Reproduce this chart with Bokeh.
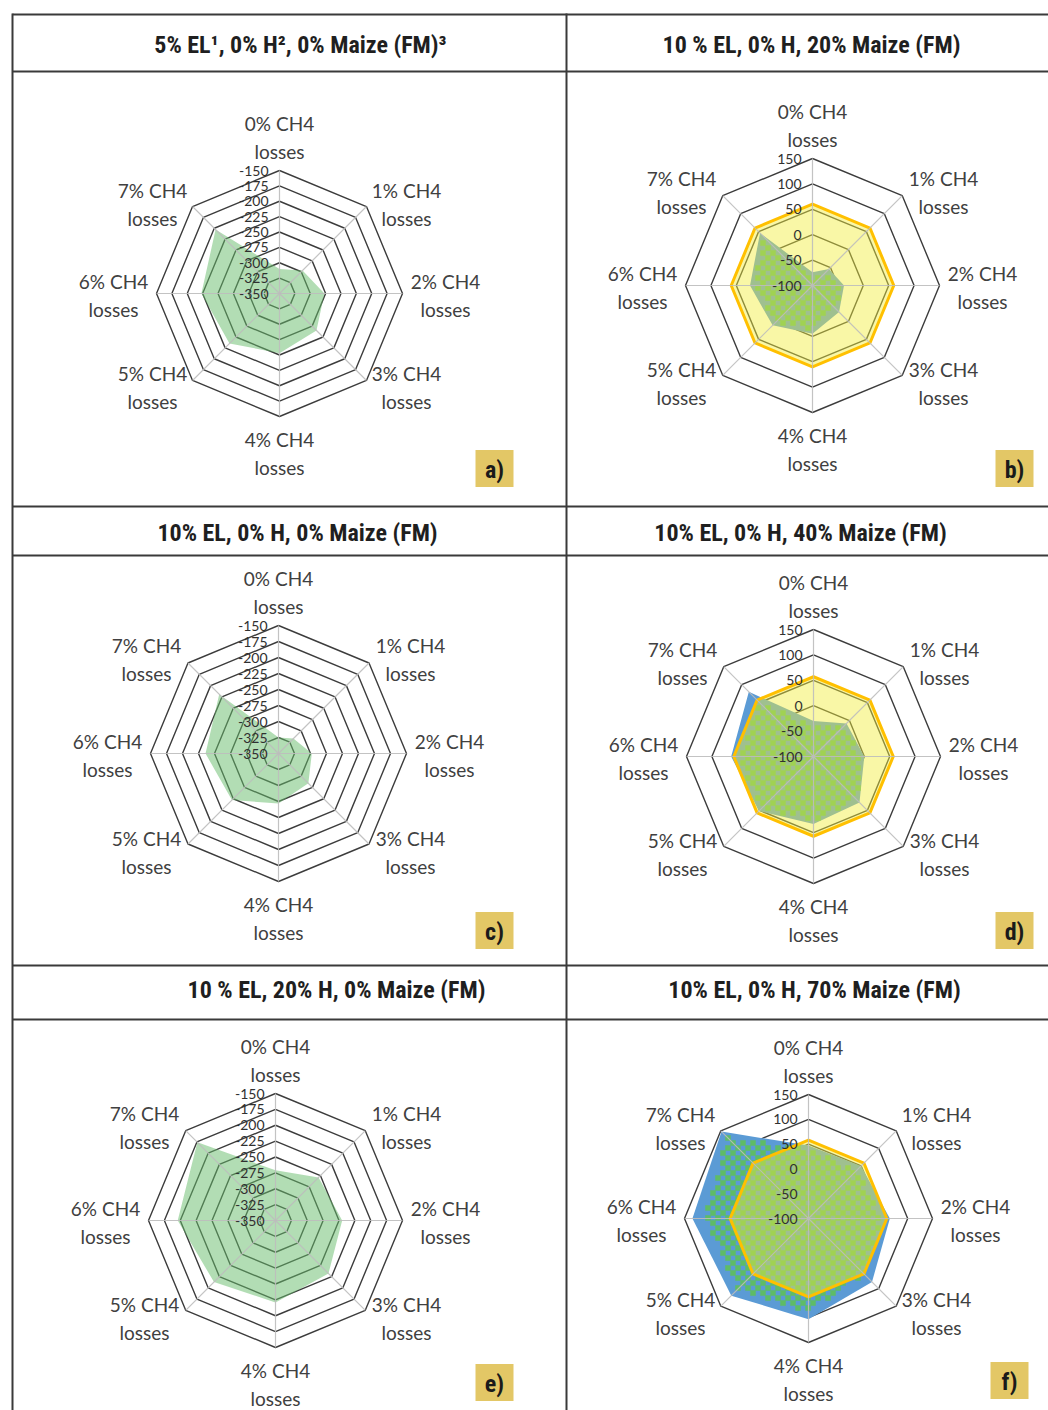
import math
from bokeh.plotting import figure
from bokeh.models import Range1d
from bokeh.core.properties import value
from bokeh.embed import file_html
from bokeh.resources import INLINE

# ---------------- data ----------------
categories = ["0% CH4\nlosses", "1% CH4\nlosses", "2% CH4\nlosses", "3% CH4\nlosses",
              "4% CH4\nlosses", "5% CH4\nlosses", "6% CH4\nlosses", "7% CH4\nlosses"]

titles = ["5% EL\u00b9, 0% H\u00b2, 0% Maize (FM)\u00b3",
          "10 % EL, 0% H, 20% Maize (FM)",
          "10% EL, 0% H, 0% Maize (FM)",
          "10% EL, 0% H, 40% Maize (FM)",
          "10 % EL, 20% H, 0% Maize (FM)",
          "10% EL, 0% H, 70% Maize (FM)"]
panel_tags = ["a)", "b)", "c)", "d)", "e)", "f)"]

ticks_low = [-350, -325, -300, -275, -250, -225, -200, -175, -150]
ticks_high = [-100, -50, 0, 50, 100, 150]

a_green = [-310, -297, -277, -265, -253, -235, -223, -203]
c_green = [-325, -317, -298, -284, -272, -247, -236, -219]
e_green = [-271, -254, -245, -232, -221, -213, -196, -176]

b_blue = [-74, -54, -38, -26, -5, 11, 23, 46]
b_green = [-74, -54, -38, -26, -5, 11, 23, 46]
b_yellow = [60, 60, 60, 60, 60, 60, 60, 60]

d_blue = [-30, -8, 0, 28, 33, 52, 62, 80]
d_green = [-30, -8, 0, 28, 33, 52, 55, 59]
d_yellow = [57, 57, 57, 57, 57, 57, 57, 57]

f_blue = [47, 50, 64, 81, 103, 120, 134, 148]
f_green = [45, 48, 58, 68, 96, 111, 116, 140]
f_yellow = [58, 58, 58, 58, 58, 58, 58, 58]

# ---------------- styling / layout ----------------
W, H = 1048, 1410
LINE = "#3a3a3a"
RING = "#3c3c3c"
SPOKE = "#bdbdbd"
TXT = "#404040"
LIGHT_GREEN = "#66BB6A"
BLUE = "#5B9BD5"
CHECK_GREEN = "#5EBC66"
YELLOW = "#F2EE3A"
GOLD = "#FFC000"
TAG_BOX = "#E3C766"
COND = "'Roboto Condensed', 'Liberation Sans Narrow', Roboto, sans-serif"
CAL = "Lato"
CELL = 5

p = figure(width=W, height=H, x_range=Range1d(0, W), y_range=Range1d(H, 0),
           output_backend="svg", toolbar_location=None, min_border=0)
p.axis.visible = False
p.grid.visible = False
p.outline_line_color = None
p.background_fill_color = "white"
p.border_fill_color = "white"

# table lines
hy = [14, 71, 506, 555, 965, 1019]
p.multi_line([[12, W] for _ in hy], [[y, y] for y in hy], line_color=LINE, line_width=2)
p.multi_line([[12, 12], [566, 566]], [[13, H], [13, H]], line_color=LINE, line_width=2)

# titles
title_pos = [(300, 44), (811, 44), (297, 532), (800, 532), (336, 989), (814, 989)]
p.text([x for x, _ in title_pos], [y for _, y in title_pos], text=titles,
       text_font=value(COND), text_font_style="bold", text_font_size="24px",
       text_align="center", text_baseline="middle", text_color="#1f1f1f")

# panel tags
tag_pos = [(494, 468), (1014, 468), (494, 930), (1014, 930), (494, 1382), (1009, 1380)]
p.rect([x for x, _ in tag_pos], [y for _, y in tag_pos], width=38, height=37,
       fill_color=TAG_BOX, line_color=None)
p.text([x for x, _ in tag_pos], [y + 1 for _, y in tag_pos], text=panel_tags,
       text_font=value(COND), text_font_style="bold", text_font_size="24px",
       text_align="center", text_baseline="middle", text_color="#1a1a1a")

N = len(categories)


def polar(cx, cy, r, i):
    th = 2 * math.pi * i / N
    return cx + r * math.sin(th), cy - r * math.cos(th)


def inside(x, y, xs, ys):
    c = False
    n = len(xs)
    j = n - 1
    for i in range(n):
        if ((ys[i] > y) != (ys[j] > y)) and (x < (xs[j] - xs[i]) * (y - ys[i]) / (ys[j] - ys[i]) + xs[i]):
            c = not c
        j = i
    return c


def checker_squares(xs, ys):
    """pattern fill of a series polygon: alternate cells that lie inside it"""
    x0, x1 = int(min(xs) // CELL), int(max(xs) // CELL) + 1
    y0, y1 = int(min(ys) // CELL), int(max(ys) // CELL) + 1
    L, R_, T, B = [], [], [], []
    for i in range(x0, x1 + 1):
        for j in range(y0, y1 + 1):
            if (i + j) % 2:
                continue
            l, r = i * CELL, (i + 1) * CELL
            t, b = j * CELL, (j + 1) * CELL
            if all(inside(u, v, xs, ys) for u, v in ((l, t), (r, t), (l, b), (r, b))):
                L.append(l); R_.append(r); T.append(t); B.append(b)
    p.quad(left=L, right=R_, top=T, bottom=B, fill_color=CHECK_GREEN,
           line_color=CHECK_GREEN, line_width=0.5)


def radar(cx, cy, R, ticks, layers):
    vmin, vmax = ticks[0], ticks[-1]

    def rad(v):
        return (v - vmin) / (vmax - vmin) * R

    # rings
    rxs, rys = [], []
    for t in ticks[1:]:
        pts = [polar(cx, cy, rad(t), i) for i in range(N + 1)]
        rxs.append([q[0] for q in pts])
        rys.append([q[1] for q in pts])
    p.multi_line(rxs, rys, line_color=RING, line_width=1.4)

    # series
    for kind, vals in layers:
        pts = [polar(cx, cy, rad(v), i) for i, v in enumerate(vals)]
        xs = [q[0] for q in pts]
        ys = [q[1] for q in pts]
        if kind == "light":
            p.patch(xs, ys, fill_color=LIGHT_GREEN, fill_alpha=0.5, line_color=None)
        elif kind == "blue":
            p.patch(xs, ys, fill_color=BLUE, fill_alpha=1.0, line_color=None)
        elif kind == "check":
            checker_squares(xs, ys)
        elif kind == "yellow":
            p.patch(xs + [xs[0]], ys + [ys[0]], fill_color=YELLOW, fill_alpha=0.45,
                    line_color=GOLD, line_width=3)

    # spokes
    sx, sy = [], []
    for i in range(N):
        x1, y1 = polar(cx, cy, R, i)
        sx.append([cx, x1])
        sy.append([cy, y1])
    p.multi_line(sx, sy, line_color=SPOKE, line_width=1.2, line_alpha=0.9)

    # tick labels
    p.text([cx - 11] * len(ticks), [cy - rad(t) for t in ticks], text=[str(t) for t in ticks],
           text_font=value(CAL), text_font_size="14px", text_align="right",
           text_baseline="middle", text_color="#303030")

    # category labels
    offs = [(0, -(R + 33)), (R + 4, -(R - 34)), (R + 43, 2), (R + 4, R - 29),
            (0, R + 37), (-(R + 4), R - 29), (-(R + 43), 2), (-(R + 4), -(R - 34))]
    lx, ly, lt = [], [], []
    for (dx, dy), cat in zip(offs, categories):
        l1, l2 = cat.split("\n")
        lx += [cx + dx, cx + dx]
        ly += [cy + dy - 14, cy + dy + 14]
        lt += [l1, l2]
    p.text(lx, ly, text=lt, text_font=value(CAL), text_font_size="19px",
           text_align="center", text_baseline="middle", text_color=TXT)


radar(279, 293, 123, ticks_low, [("light", a_green)])
radar(812, 285, 127, ticks_high, [("blue", b_blue), ("check", b_green), ("yellow", b_yellow)])
radar(278, 753, 128, ticks_low, [("light", c_green)])
radar(813, 756, 127, ticks_high, [("blue", d_blue), ("check", d_green), ("yellow", d_yellow)])
radar(275, 1220, 127, ticks_low, [("light", e_green)])
radar(808, 1218, 124, ticks_high, [("blue", f_blue), ("check", f_green), ("yellow", f_yellow)])

open("out.html", "w").write(file_html(p, INLINE))
